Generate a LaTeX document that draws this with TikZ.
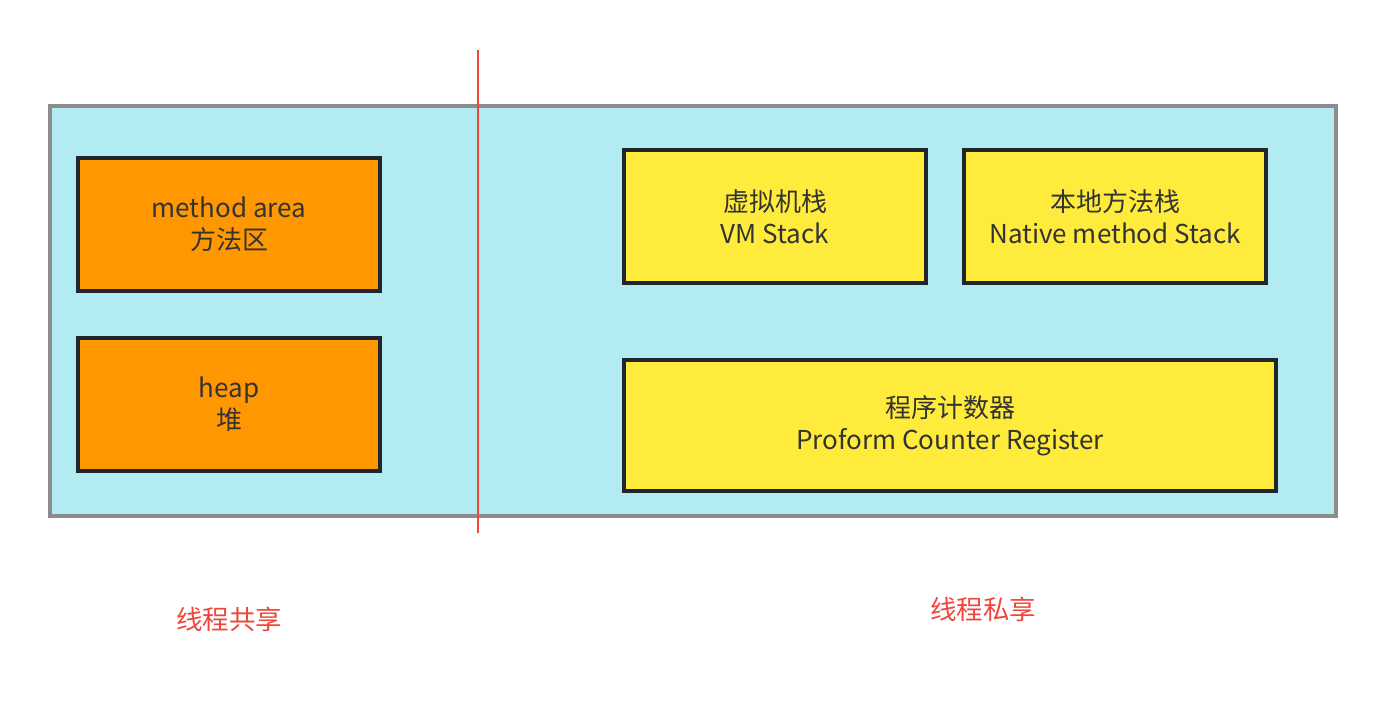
\documentclass[tikz,border=0pt]{standalone}
\usepackage{fontspec}
\setmainfont{Noto Sans CJK SC}
\definecolor{bgc}{HTML}{B2EBF2}
\definecolor{orangec}{HTML}{FF9800}
\definecolor{yellowc}{HTML}{FFEB3B}
\definecolor{framec}{HTML}{8C8C8C}
\definecolor{darkc}{HTML}{1F272C}
\definecolor{txtc}{HTML}{333333}
\definecolor{redc}{HTML}{F0463C}
\begin{document}
\begin{tikzpicture}[x=1pt,y=-1pt,
  box/.style={draw=darkc, line width=4pt, text=txtc, align=center, inner sep=0pt,
    font=\fontsize{26}{32}\selectfont},
  orangebox/.style={box, fill=orangec, minimum width=302pt, minimum height=133pt},
  yellowbox/.style={box, fill=yellowc, minimum width=302pt, minimum height=133pt},
  lbl/.style={text=redc, font=\fontsize{26.5}{30}\selectfont}]
\useasboundingbox (0,0) rectangle (1386,708);
\fill[white] (0,0) rectangle (1386,708);
\node[draw=framec, fill=bgc, line width=4pt, minimum width=1286pt, minimum height=410pt, inner sep=0pt] (frame) at (693,311) {};
\node[orangebox] (ma) at (229,224.5) {method area\\方法区};
\node[orangebox] (heap) at (229,404.5) {heap\\堆};
\node[yellowbox] (vm) at (775,216.5) {虚拟机栈\\VM Stack};
\node[yellowbox] (nat) at (1115,216.5) {本地方法栈\\Native method Stack};
\node[box, fill=yellowc, minimum width=652pt, minimum height=131pt] (pc) at (950,425.5) {程序计数器\\Proform Counter Register};
\coordinate (top) at (478,50);
\coordinate (bot) at (478,533);
\draw[redc, line width=1.5pt] (top) -- (bot);
\node[lbl] (shared) at (229,619) {线程共享};
\node[lbl] (private) at (983,609) {线程私享};
\end{tikzpicture}
\end{document}
